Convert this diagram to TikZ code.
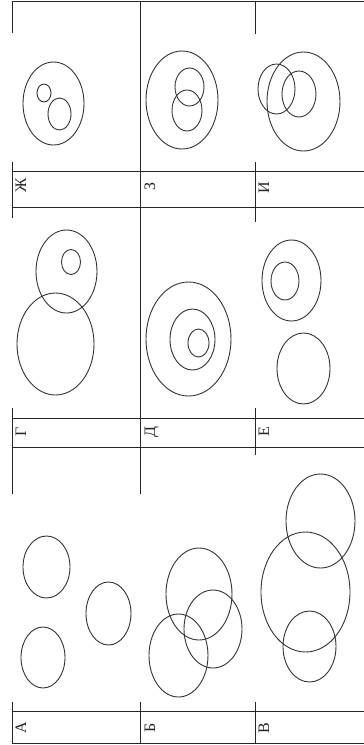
\documentclass[tikz,border=0pt]{standalone}
\usepackage{fontspec}
\setmainfont{Liberation Serif}
\begin{document}
\begin{tikzpicture}[x=1pt,y=-1pt,
  rule/.style={draw=black!85, line width=0.8pt},
  ring/.style={draw=black!80, line width=0.9pt},
  lab/.style={rotate=90, anchor=base, inner sep=0pt, font=\fontsize{16}{18}\selectfont, text=black!85}]
\useasboundingbox[fill=white] (0,0) rectangle (364,745);
% horizontal rules
\foreach \yy in {1,171,207,418,447,711,743}
  \draw[rule] (12,\yy) -- (364,\yy);
% vertical rules
\draw[rule] (12,1) -- (12,33);
\draw[rule] (12,162) -- (12,218);
\draw[rule] (12,408) -- (12,494);
\draw[rule] (12,702) -- (12,743);
\draw[rule] (140,1) -- (140,494);
\draw[rule] (140,702) -- (140,743);
\draw[rule] (255,1) -- (255,34);
\draw[rule] (255,162) -- (255,222);
\draw[rule] (255,408) -- (255,455);
\draw[rule] (255,702) -- (255,743);
% labels
\node[lab] (lA) at (26,728) {А};
\node[lab] (lB) at (155,728) {Б};
\node[lab] (lV) at (269,728) {В};
\node[lab] (lG) at (26,432) {Г};
\node[lab] (lD) at (155,432) {Д};
\node[lab] (lE) at (269,432) {Е};
\node[lab] (lZh) at (26,185) {Ж};
\node[lab] (lZ) at (155,186) {З};
\node[lab] (lI) at (269,188) {И};
% Ж
\draw[ring] (53.5,103.5) ellipse [x radius=30.5pt, y radius=41.5pt];
\draw[ring] (44,93) ellipse [x radius=7pt, y radius=9pt];
\draw[ring] (59.5,114) ellipse [x radius=11.5pt, y radius=16pt];
% З
\draw[ring] (182,100) ellipse [x radius=36pt, y radius=49pt];
\draw[ring] (189.5,87) ellipse [x radius=14.5pt, y radius=19pt];
\draw[ring] (187,110.5) ellipse [x radius=15pt, y radius=20.5pt];
% И
\draw[ring] (303.5,101.5) ellipse [x radius=36.5pt, y radius=49.5pt];
\draw[ring] (276.5,89) ellipse [x radius=18.5pt, y radius=25pt];
\draw[ring] (299,94) ellipse [x radius=17pt, y radius=23pt];
% Г
\draw[ring] (66.5,271.5) ellipse [x radius=30.5pt, y radius=41.5pt];
\draw[ring] (71,262) ellipse [x radius=9.5pt, y radius=12.5pt];
\draw[ring] (55.5,344) ellipse [x radius=38.5pt, y radius=51pt];
% Д
\draw[ring] (188.5,339) ellipse [x radius=42.5pt, y radius=57pt];
\draw[ring] (192.5,339.5) ellipse [x radius=22.5pt, y radius=30.5pt];
\draw[ring] (198.5,343) ellipse [x radius=10.5pt, y radius=14pt];
% Е
\draw[ring] (291.5,280.5) ellipse [x radius=29.5pt, y radius=40.5pt];
\draw[ring] (285,281) ellipse [x radius=14pt, y radius=19pt];
\draw[ring] (303.5,368.5) ellipse [x radius=26.5pt, y radius=35.5pt];
% А
\draw[ring] (46.5,567) ellipse [x radius=23.5pt, y radius=31pt];
\draw[ring] (108.5,613.5) ellipse [x radius=22.5pt, y radius=31.5pt];
\draw[ring] (43,657.5) ellipse [x radius=22pt, y radius=30.5pt];
% Б
\draw[ring] (199,594) ellipse [x radius=33pt, y radius=46pt];
\draw[ring] (213,629) ellipse [x radius=29pt, y radius=39pt];
\draw[ring] (178.5,655.5) ellipse [x radius=29.5pt, y radius=41.5pt];
% В
\draw[ring] (305.5,592) ellipse [x radius=44.5pt, y radius=60pt];
\draw[ring] (320.5,521) ellipse [x radius=34.5pt, y radius=47pt];
\draw[ring] (309.5,646.5) ellipse [x radius=26.5pt, y radius=35.5pt];
\end{tikzpicture}
\end{document}
